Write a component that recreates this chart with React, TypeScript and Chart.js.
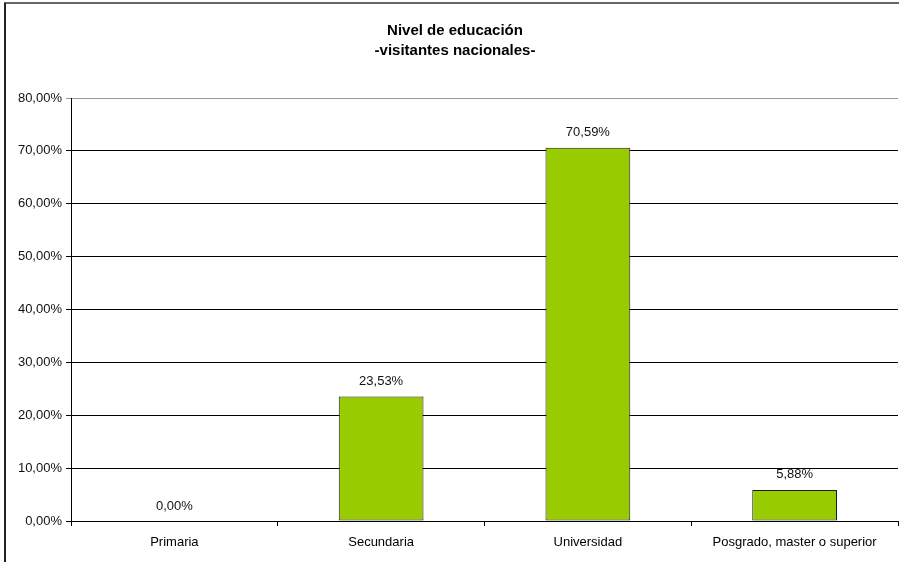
import React, { useEffect, useRef } from "react";
import { Chart, registerables } from "chart.js";

Chart.register(...registerables);

const categories = ["Primaria", "Secundaria", "Universidad", "Posgrado, master o superior"];
const values = [0, 23.53, 70.59, 5.88];
const titleLines = ["Nivel de educación", "-visitantes nacionales-"];

const fmt = (v: number) => v.toFixed(2).replace(".", ",") + "%";
const FONT = "'Liberation Sans', Arial, sans-serif";

const framePlugin = {
  id: "frame",
  beforeDraw(chart: any) {
    const ctx = chart.ctx;
    ctx.save();
    ctx.fillStyle = "#fff";
    ctx.fillRect(0, 0, chart.width, chart.height);
    ctx.strokeStyle = "#666";
    ctx.lineWidth = 2;
    ctx.beginPath();
    ctx.moveTo(4, 3);
    ctx.lineTo(chart.width, 3);
    ctx.stroke();
    ctx.strokeStyle = "#222";
    ctx.beginPath();
    ctx.moveTo(5, 3);
    ctx.lineTo(5, chart.height);
    ctx.stroke();
    // title
    ctx.fillStyle = "#000";
    ctx.font = `bold 15px ${FONT}`;
    ctx.textAlign = "center";
    ctx.textBaseline = "middle";
    const cx = 455;
    titleLines.forEach((t, i) => ctx.fillText(t, cx, 31 + i * 20));
    ctx.restore();
  },
  afterDatasetsDraw(chart: any) {
    const ctx = chart.ctx;
    const meta = chart.getDatasetMeta(0);
    ctx.save();
    ctx.fillStyle = "#111";
    ctx.font = `13px ${FONT}`;
    ctx.textAlign = "center";
    ctx.textBaseline = "middle";
    meta.data.forEach((bar: any, i: number) => {
      ctx.fillText(fmt(values[i]), bar.x, bar.y - 15);
    });
    ctx.restore();
  },
};

export default function App() {
  const ref = useRef<HTMLCanvasElement>(null);
  useEffect(() => {
    if (!ref.current) return;
    const chart = new Chart(ref.current, {
      type: "bar",
      data: {
        labels: categories,
        datasets: [
          {
            data: values,
            backgroundColor: "#99CC00",
            borderColor: "#1a1a1a",
            borderWidth: 1,
            borderSkipped: false,
            categoryPercentage: 1,
            barPercentage: 0.41,
          },
        ],
      },
      options: {
        animation: false,
        responsive: false,
        maintainAspectRatio: false,
        layout: { padding: { top: 98, right: 1, left: 0, bottom: 0 } },
        plugins: { legend: { display: false }, tooltip: { enabled: false }, title: { display: false } },
        scales: {
          x: {
            offset: true,
            grid: { display: true, drawOnChartArea: false, offset: true, color: "#000", tickLength: 5 },
            border: { display: true, color: "#000" },
            ticks: { color: "#000", font: { family: FONT, size: 13 }, padding: 9, maxRotation: 0 },
            afterFit: (s: any) => { s.height = 41; },
          },
          y: {
            min: 0,
            max: 80,
            grid: {
              color: (c: any) => (c.tick && c.tick.value === 80 ? "#999" : "#000"),
              tickLength: 5,
            },
            border: { display: true, color: "#000" },
            ticks: {
              stepSize: 10,
              color: "#111",
              font: { family: FONT, size: 13 },
              padding: 4,
              callback: (v: any) => fmt(Number(v)),
            },
            afterFit: (s: any) => { s.width = 71; },
          },
        },
      },
      plugins: [framePlugin],
    });
    return () => chart.destroy();
  }, []);
  return (
    <div style={{ position: "fixed", left: 0, top: 0, width: 899, height: 562, background: "#fff" }}>
      <canvas ref={ref} width={899} height={562} style={{ display: "block" }} />
    </div>
  );
}
